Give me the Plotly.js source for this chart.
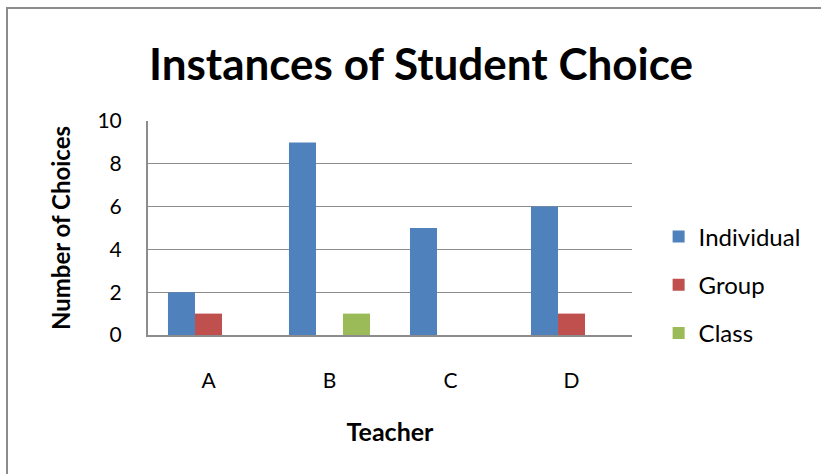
<!DOCTYPE html>
<html>
<head>
<meta charset="utf-8">
<script src="https://cdn.plot.ly/plotly-3.0.1.min.js"></script>
<style>
  html, body { margin: 0; padding: 0; background: #fff; }
  #wrap { position: relative; width: 821px; height: 474px; overflow: hidden; }
  #chart { width: 821px; height: 474px; }
  #frame { position: absolute; left: 6px; top: 7px; width: 900px; height: 600px;
           border: 2px solid #8c8c8c; pointer-events: none; box-sizing: border-box; }
</style>
</head>
<body>
<div id="wrap">
  <div id="chart"></div>
  <div id="frame"></div>
</div>
<script>
const teachers = ["A", "B", "C", "D"];
const individual = [2, 9, 5, 6];
const group = [1, 0, 0, 1];
const classVals = [0, 1, 0, 0];
const yTicks = [0, 2, 4, 6, 8, 10];

const fontFam = "Lato, 'Open Sans', sans-serif";

const traces = [
  { name: "Individual", y: individual, color: "#4F81BD", g: "g1" },
  { name: "Group", y: group, color: "#C0504D", g: "g2" },
  { name: "Class", y: classVals, color: "#9BBB59", g: "g3" }
].map(s => ({
  type: "bar",
  x: teachers,
  y: s.y,
  name: s.name,
  legendgroup: s.g,
  marker: { color: s.color, line: { width: 0 } }
}));

const layout = {
  width: 821,
  height: 474,
  margin: { l: 148, r: 189, t: 121, b: 139 },
  paper_bgcolor: "#fff",
  plot_bgcolor: "#fff",
  barmode: "group",
  bargap: 0.33,
  bargroupgap: 0,
  showlegend: true,
  title: {
    text: "<b>Instances of Student Choice</b>",
    font: { family: fontFam, size: 44, color: "#000" },
    x: 421 / 821, xanchor: "center",
    y: 1 - 65 / 474, yanchor: "middle"
  },
  xaxis: {
    type: "category",
    showgrid: false,
    showline: true,
    linecolor: "#8c8c8c",
    linewidth: 2,
    ticks: "outside",
    ticklen: 26,
    tickcolor: "rgba(0,0,0,0)",
    tickfont: { family: fontFam, size: 21, color: "#000" },
    title: { text: "<b>Teacher</b>", font: { family: fontFam, size: 25, color: "#000" }, standoff: 32 },
    fixedrange: true
  },
  yaxis: {
    range: [0, 10],
    tickvals: yTicks,
    ticktext: yTicks.map(String),
    showgrid: true,
    gridcolor: "#8c8c8c",
    gridwidth: 1,
    showline: true,
    linecolor: "#8c8c8c",
    linewidth: 2,
    zeroline: false,
    ticks: "outside",
    ticklen: 20,
    tickcolor: "rgba(0,0,0,0)",
    tickfont: { family: fontFam, size: 21, color: "#000" },
    title: { text: "<b>Number of Choices</b>", font: { family: fontFam, size: 24, color: "#000" }, standoff: 20 },
    fixedrange: true
  },
  legend: {
    x: 1.055, xanchor: "left",
    y: 0.234, yanchor: "middle",
    xref: "paper",
    traceorder: "grouped",
    tracegroupgap: 14,
    font: { family: fontFam, size: 24, color: "#000" },
    itemwidth: 30,
    bgcolor: "rgba(0,0,0,0)"
  }
};

Plotly.newPlot("chart", traces, layout, { displayModeBar: false, staticPlot: true });
</script>
</body>
</html>
